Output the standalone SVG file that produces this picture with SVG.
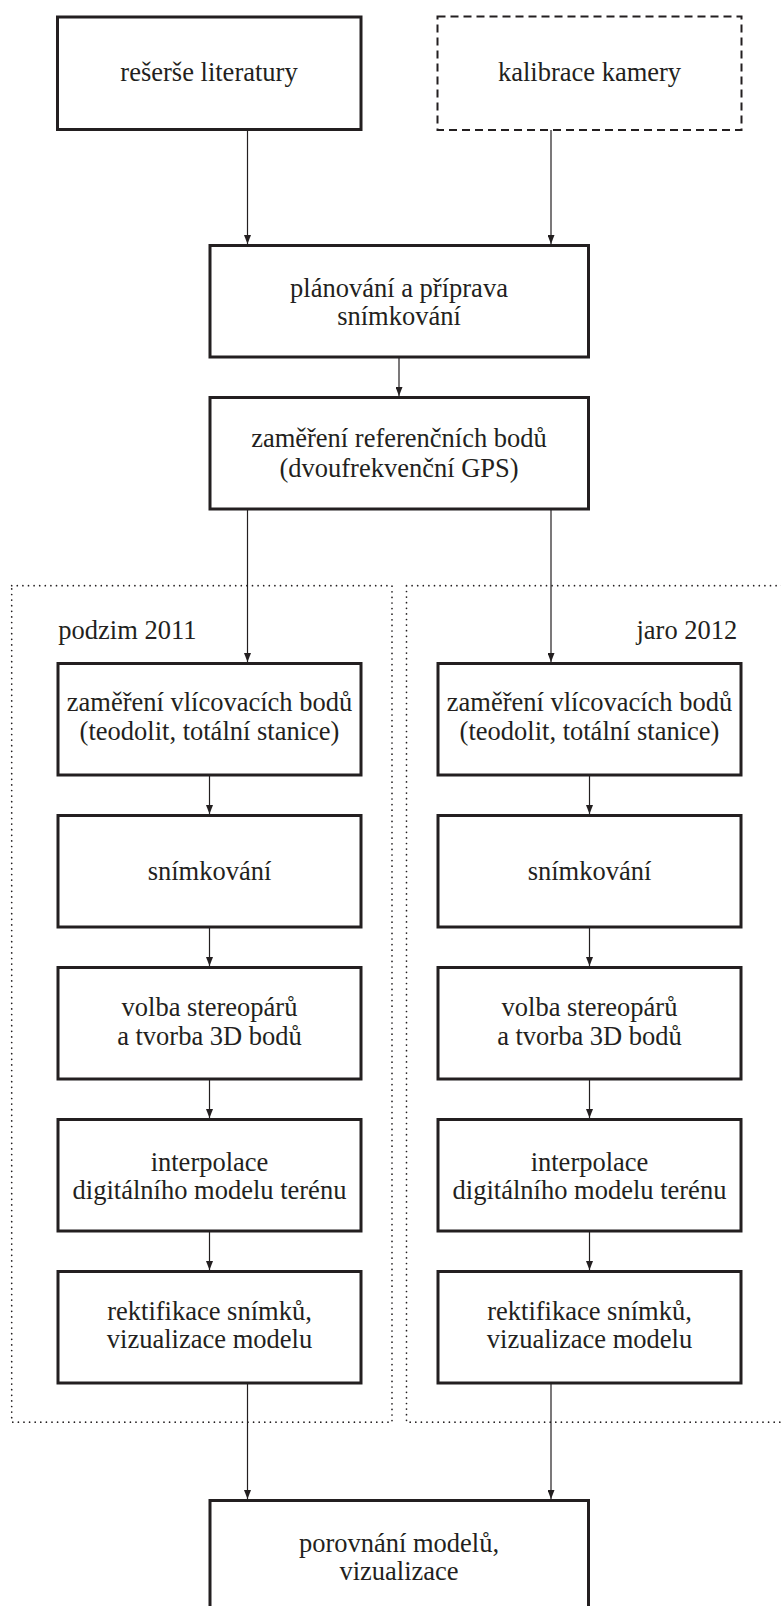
<svg xmlns="http://www.w3.org/2000/svg" width="781" height="1606" viewBox="0 0 781 1606">
<defs>
<style>
.box{fill:#fff;stroke:#231f20;stroke-width:3}
.dash{fill:#fff;stroke:#231f20;stroke-width:2;stroke-dasharray:8 5}
.cont{fill:none;stroke:#231f20;stroke-width:1.7;stroke-dasharray:0 5.6;stroke-linecap:round}
.t{font-family:"Liberation Serif","Times New Roman",serif;font-size:26.5px;fill:#231f20;text-anchor:middle}
.lbl{font-family:"Liberation Serif","Times New Roman",serif;font-size:26.5px;fill:#231f20}
.arr{fill:none;stroke:#231f20;stroke-width:1.2;marker-end:url(#ah)}
</style>
<marker id="ah" viewBox="0 0 9 7" refX="9" refY="3.5" markerUnits="userSpaceOnUse" markerWidth="9" markerHeight="7" orient="auto">
<path d="M0,0 L9,3.5 L0,7 z" fill="#231f20"/>
</marker>
</defs>
<rect width="781" height="1606" fill="#fff"/>

<g id="containers">
<rect id="autumn" class="cont" x="11.7" y="585.7" width="380.3" height="836.5"/>
<rect id="spring" class="cont" x="406.5" y="585.7" width="390" height="836.5"/>
</g>

<g id="connectors">
<line class="arr" x1="247.5" y1="130.7" x2="247.5" y2="244"/>
<line class="arr" x1="551" y1="130" x2="551" y2="244"/>
<line class="arr" x1="399" y1="357.2" x2="399" y2="396"/>
<line class="arr" x1="247.5" y1="509.2" x2="247.5" y2="662"/>
<line class="arr" x1="551" y1="509.2" x2="551" y2="662"/>
<line class="arr" x1="209.5" y1="775.2" x2="209.5" y2="814"/>
<line class="arr" x1="209.5" y1="927.2" x2="209.5" y2="966"/>
<line class="arr" x1="209.5" y1="1079.2" x2="209.5" y2="1118"/>
<line class="arr" x1="209.5" y1="1231.2" x2="209.5" y2="1270"/>
<line class="arr" x1="589.5" y1="775.2" x2="589.5" y2="814"/>
<line class="arr" x1="589.5" y1="927.2" x2="589.5" y2="966"/>
<line class="arr" x1="589.5" y1="1079.2" x2="589.5" y2="1118"/>
<line class="arr" x1="589.5" y1="1231.2" x2="589.5" y2="1270"/>
<line class="arr" x1="247.5" y1="1383.2" x2="247.5" y2="1499"/>
<line class="arr" x1="551" y1="1383.2" x2="551" y2="1499"/>
</g>

<g id="n-reserse">
<rect class="box" x="57.5" y="17" width="303.5" height="112.5"/>
<text class="t" x="209" y="80.5">rešerše literatury</text>
</g>
<g id="n-kalibrace">
<rect class="dash" x="437.5" y="16.5" width="304" height="113.5"/>
<text class="t" x="589.5" y="80.5">kalibrace kamery</text>
</g>
<g id="n-planovani">
<rect class="box" x="210" y="245.5" width="378.5" height="111.5"/>
<text class="t" x="399" y="297">plánování a příprava</text>
<text class="t" x="399" y="325">snímkování</text>
</g>
<g id="n-referencni">
<rect class="box" x="210" y="397.5" width="378.5" height="111.5"/>
<text class="t" x="399" y="447">zaměření referenčních bodů</text>
<text class="t" x="399" y="477">(dvoufrekvenční GPS)</text>
</g>

<g id="l-podzim"><text class="lbl" x="58.3" y="639">podzim 2011</text></g>
<g id="l-jaro"><text class="lbl" x="737.3" y="639" text-anchor="end">jaro 2012</text></g>

<g id="a-vlicovaci">
<rect class="box" x="58" y="663.5" width="303" height="111.5"/>
<text class="t" x="209.5" y="711">zaměření vlícovacích bodů</text>
<text class="t" x="209.5" y="740">(teodolit, totální stanice)</text>
</g>
<g id="a-snimkovani">
<rect class="box" x="58" y="815.5" width="303" height="111.5"/>
<text class="t" x="209.5" y="880">snímkování</text>
</g>
<g id="a-stereo">
<rect class="box" x="58" y="967.5" width="303" height="111.5"/>
<text class="t" x="209.5" y="1016">volba stereopárů</text>
<text class="t" x="209.5" y="1045">a tvorba 3D bodů</text>
</g>
<g id="a-interpolace">
<rect class="box" x="58" y="1119.5" width="303" height="111.5"/>
<text class="t" x="209.5" y="1170.5">interpolace</text>
<text class="t" x="209.5" y="1199">digitálního modelu terénu</text>
</g>
<g id="a-rektifikace">
<rect class="box" x="58" y="1271.5" width="303" height="111.5"/>
<text class="t" x="209.5" y="1319.5">rektifikace snímků,</text>
<text class="t" x="209.5" y="1348">vizualizace modelu</text>
</g>

<g id="s-vlicovaci">
<rect class="box" x="438" y="663.5" width="303" height="111.5"/>
<text class="t" x="589.5" y="711">zaměření vlícovacích bodů</text>
<text class="t" x="589.5" y="740">(teodolit, totální stanice)</text>
</g>
<g id="s-snimkovani">
<rect class="box" x="438" y="815.5" width="303" height="111.5"/>
<text class="t" x="589.5" y="880">snímkování</text>
</g>
<g id="s-stereo">
<rect class="box" x="438" y="967.5" width="303" height="111.5"/>
<text class="t" x="589.5" y="1016">volba stereopárů</text>
<text class="t" x="589.5" y="1045">a tvorba 3D bodů</text>
</g>
<g id="s-interpolace">
<rect class="box" x="438" y="1119.5" width="303" height="111.5"/>
<text class="t" x="589.5" y="1170.5">interpolace</text>
<text class="t" x="589.5" y="1199">digitálního modelu terénu</text>
</g>
<g id="s-rektifikace">
<rect class="box" x="438" y="1271.5" width="303" height="111.5"/>
<text class="t" x="589.5" y="1319.5">rektifikace snímků,</text>
<text class="t" x="589.5" y="1348">vizualizace modelu</text>
</g>

<g id="n-porovnani">
<rect class="box" x="210" y="1500.5" width="378.5" height="120"/>
<text class="t" x="399" y="1551.5">porovnání modelů,</text>
<text class="t" x="399" y="1580">vizualizace</text>
</g>
</svg>
